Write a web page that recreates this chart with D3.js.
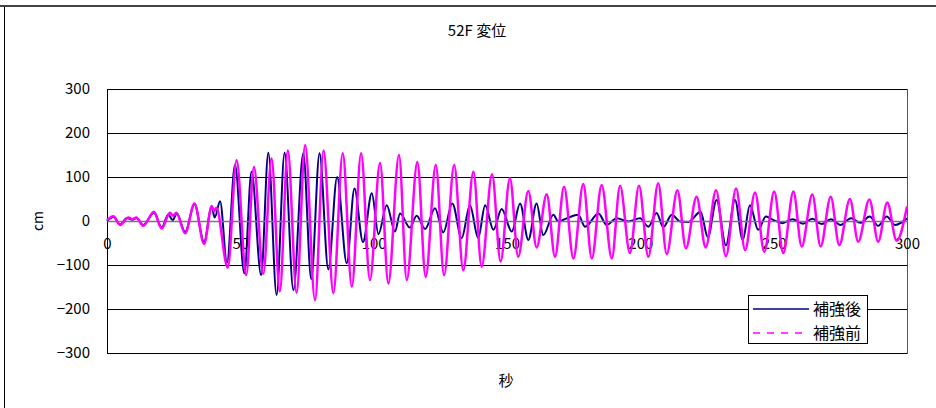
<!DOCTYPE html>
<html>
<head>
<meta charset="utf-8">
<script src="https://cdn.jsdelivr.net/npm/d3@7"></script>
<style>
  html, body { margin: 0; padding: 0; background: #fff; }
  svg { display: block; font-family: "Noto Sans CJK JP", "Noto Sans", sans-serif; }
</style>
</head>
<body>
<svg id="chart" width="936" height="408"></svg>
<script>
// ---------- DATA ----------
const chartTitle = "52F 変位";
const xAxisTitle = "秒";
const yAxisTitle = "cm";
const seriesNames = ["補強後", "補強前"];
const xTicks = [0, 50, 100, 150, 200, 250, 300];
const yTicks = [-300, -200, -100, 0, 100, 200, 300];

// 補強後 (after reinforcement) — turning points
const afterTimes = [0,2.4,4.9,7.5,9.5,11,13.6,17.6,20.5,23,24.6,26.2,29.3,32.8,36.4,39.2,40.4,42.4,45,48,51.5,54.2,57.8,60.5,63.6,66.6,69.9,73.6,76.6,79.7,83,86.3,89.9,92.8,96,99.3,101.8,104.9,108,109.9,113.6,116.1,119.3,123,126.1,129.5,133,136.1,139.2,141.8,144.9,148,151.8,154.9,158,161.1,163.6,167.4,169.2,172.4,176.7,179.3,184.3,187.4,191.1,195.5,199.9,203,206.1,208.6,211.8,214.9,218,222.6,225.3,228.6,232.1,235.5,238.4,241.1,244.2,247.1,250,253.3,257,261,264.5,268,271.5,275,279,282.5,286,289.2,292.4,295.5,300];
const afterValues = [0,9,-8,7,3,7,-9,19,-15,15,2,17,-25,38,-48,33,8,45,-95,127,-119,112,-123,155,-168,155,-157,154,-132,154,-110,100,-96,74,-48,63,-30,36,-24,17,-15,12,-18,29,-26,40,-39,36,-39,36,-20,27,-24,40,-43,40,-32,14,-1,6,14,-13,17,-9,6,-1,6,-13,18,-14,14,-1,-2,21,-37,48,-55,48,-43,36,-20,10,2,-5,4,-6,5,-7,4,-9,6,-4,10,-11,10,-9,6];

// 補強前 (before reinforcement) — turning points
const beforeTimes = [0,2.4,4.9,8,9.5,11,13.6,17.6,20.5,23.6,24.8,26,29.3,32.8,36.4,39.3,40.2,41,45.3,48.6,52.2,55.1,58.6,61.7,64.8,67.8,71.1,74.3,78,81.2,84.9,88.4,91.8,95.3,98.6,102.4,105.5,109.5,112.4,116.4,119.5,123.3,126.4,130.2,133.6,137.4,140.5,144.4,147.6,151.1,154.2,158,161.1,164.9,168,171.4,174.9,178.6,181.8,185.5,189.3,192.4,196.1,199.5,203,206.7,209.9,213.9,217.1,221.1,224.5,228.4,232.1,235.9,239.3,243,246.5,250.2,253.6,257.4,260.5,264.5,267.6,271.4,274.6,278.6,281.7,285.9,289.2,292.6,296.1,300];
const beforeValues = [2,11,-9,8,4,8,-11,21,-17,19,12,19,-28,40,-52,34,22,30,-106,138,-123,123,-120,142,-160,160,-163,173,-180,160,-164,154,-149,154,-134,132,-142,150,-134,134,-127,127,-123,127,-112,112,-104,106,-92,98,-81,68,-60,61,-81,78,-85,84,-85,82,-85,80,-73,80,-81,86,-75,70,-62,55,-60,70,-80,74,-66,65,-70,67,-73,67,-58,60,-58,55,-55,50,-47,49,-47,42,-45,33];

const seriesColors = ["#000080", "#ff00ff"];

// ---------- DRAW ----------
const svg = d3.select("#chart");
const x = d3.scaleLinear().domain([0, 300]).range([107, 907]);
const y = d3.scaleLinear().domain([-300, 300]).range([353, 89]);

// outer chart frame
svg.append("rect").attr("x", 4.5).attr("y", 6.5).attr("width", 960).attr("height", 420)
  .attr("fill", "#fff").attr("stroke", "#000").attr("stroke-width", 1);
svg.append("line").attr("x1", 0).attr("x2", 936).attr("y1", 6).attr("y2", 6)
  .attr("stroke", "#444").attr("stroke-width", 2);

// title
svg.append("text").attr("x", 477).attr("y", 36).attr("text-anchor", "middle")
  .attr("font-size", 15).attr("fill", "#000").text(chartTitle);

// gridlines
svg.append("g").selectAll("line").data(yTicks.filter(d => d !== 0)).join("line")
  .attr("x1", x(0)).attr("x2", x(300))
  .attr("y1", d => Math.round(y(d)) + 0.5).attr("y2", d => Math.round(y(d)) + 0.5)
  .attr("stroke", "#000").attr("stroke-width", 1);

// plot area left and right borders
svg.append("line").attr("x1", x(0) + 0.5).attr("x2", x(0) + 0.5).attr("y1", y(300)).attr("y2", y(-300) + 1)
  .attr("stroke", "#000");
svg.append("line").attr("x1", x(300) + 0.5).attr("x2", x(300) + 0.5).attr("y1", y(300)).attr("y2", y(-300) + 1)
  .attr("stroke", "#555");

// y axis labels
const yAxis = d3.axisLeft(y).tickValues(yTicks).tickSize(0).tickPadding(17)
  .tickFormat(d => (d < 0 ? "\u2212" + Math.abs(d) : String(d)));
const gy = svg.append("g").attr("transform", `translate(${x(0)},0)`).call(yAxis);
gy.select(".domain").remove();
gy.selectAll("text").attr("font-size", 15).attr("font-family", "Noto Sans CJK JP").attr("fill", "#000");

// series
const line = d3.line().x(d => x(d[0])).y(d => y(d[1])).curve(d3.curveMonotoneX);
const afterData = afterTimes.map((t, i) => [t, afterValues[i]]);
const beforeData = beforeTimes.map((t, i) => [t, beforeValues[i]]);

svg.append("path").datum(afterData).attr("d", line)
  .attr("fill", "none").attr("stroke", seriesColors[0]).attr("stroke-width", 2);

// zero line (x axis)
const xAxis = d3.axisBottom(x).tickValues(xTicks).tickSize(0).tickPadding(17);
const gx = svg.append("g").attr("transform", `translate(0,${y(0)})`).call(xAxis);
gx.select(".domain").attr("stroke", "#777").attr("stroke-width", 1.5);
gx.selectAll("text").attr("font-size", 15).attr("font-family", "Noto Sans CJK JP").attr("fill", "#000");

svg.append("path").datum(beforeData).attr("d", line)
  .attr("fill", "none").attr("stroke", seriesColors[1]).attr("stroke-width", 2.5);

// axis titles
svg.append("text").attr("x", 506).attr("y", 386).attr("text-anchor", "middle")
  .attr("font-size", 15).attr("fill", "#000").text(xAxisTitle);
svg.append("text").attr("transform", "translate(43,221) rotate(-90)").attr("text-anchor", "middle")
  .attr("font-size", 14).attr("fill", "#000").text(yAxisTitle);

// legend
const lg = svg.append("g");
lg.append("rect").attr("x", 748.5).attr("y", 295.5).attr("width", 119).attr("height", 48)
  .attr("fill", "#fff").attr("stroke", "#000");
const legendRows = [
  { name: seriesNames[0], color: seriesColors[0], dash: null, yy: 309 },
  { name: seriesNames[1], color: seriesColors[1], dash: "7,7", yy: 333 }
];
legendRows.forEach(r => {
  lg.append("line").attr("x1", 753).attr("x2", 809).attr("y1", r.yy).attr("y2", r.yy)
    .attr("stroke", r.color).attr("stroke-width", 1.5).attr("stroke-dasharray", r.dash);
  lg.append("text").attr("x", 813).attr("y", r.yy + 6).attr("font-size", 16)
    .attr("fill", "#000").text(r.name);
});
</script>
</body>
</html>
